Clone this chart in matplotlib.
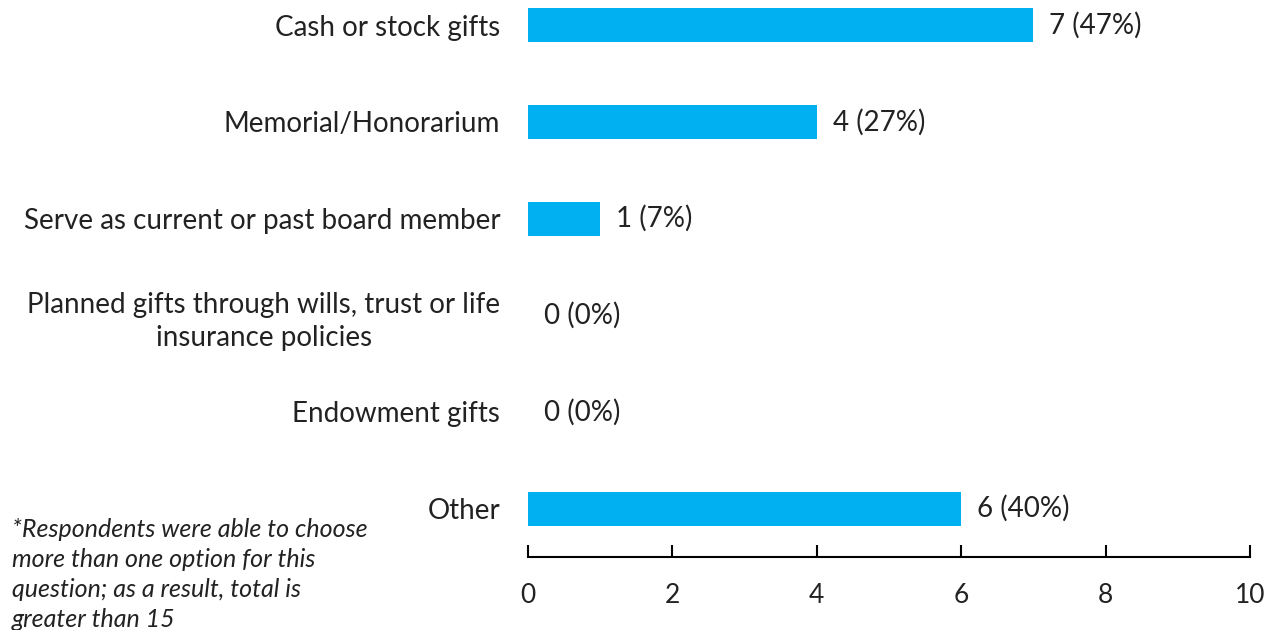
import matplotlib.pyplot as plt

plt.rcParams['font.family'] = ['Lato', 'DejaVu Sans']

categories = [
    'Cash or stock gifts',
    'Memorial/Honorarium',
    'Serve as current or past board member',
    'Planned gifts through wills, trust or life\ninsurance policies',
    'Endowment gifts',
    'Other',
]
counts = [7, 4, 1, 0, 0, 6]
percents = [47, 27, 7, 0, 0, 40]
xticks = [0, 2, 4, 6, 8, 10]
note = ('*Respondents were able to choose\nmore than one option for this\n'
        'question; as a result, total is\ngreater than 15')

txt = '#222222'
fig = plt.figure(figsize=(12.79, 6.3), dpi=100)
ax = fig.add_axes([0.4128, 0.1159, 0.5645, 0.9206])

y = list(range(len(categories)))
ax.barh(y, counts, height=0.35, color='#00B0F0')
ax.set_ylim(len(categories) - 0.5, -0.5)
ax.set_xlim(0, 10)

for yi, c, p in zip(y, counts, percents):
    ax.text(c + 0.22, yi, f'{c} ({p}%)', va='center', ha='left',
            fontsize=20, color=txt)

ax.set_yticks(y)
ax.set_yticklabels(categories, fontsize=20, color=txt)
for lbl in ax.get_yticklabels():
    lbl.set_multialignment('center')
    lbl.set_linespacing(1.35)
ax.tick_params(axis='y', length=0, pad=20)

ax.set_xticks(xticks)
ax.set_xticklabels([str(t) for t in xticks], fontsize=19, color=txt)
ax.tick_params(axis='x', direction='in', length=9, width=1.5, color='black', pad=19)

for s in ['top', 'right', 'left']:
    ax.spines[s].set_visible(False)
ax.spines['bottom'].set_linewidth(1.5)

fig.text(12 / 1279, 1 - 518 / 630, note, style='italic', fontsize=18,
         color=txt, va='top', ha='left', linespacing=1.36)

fig.savefig('out.png', dpi=100)
